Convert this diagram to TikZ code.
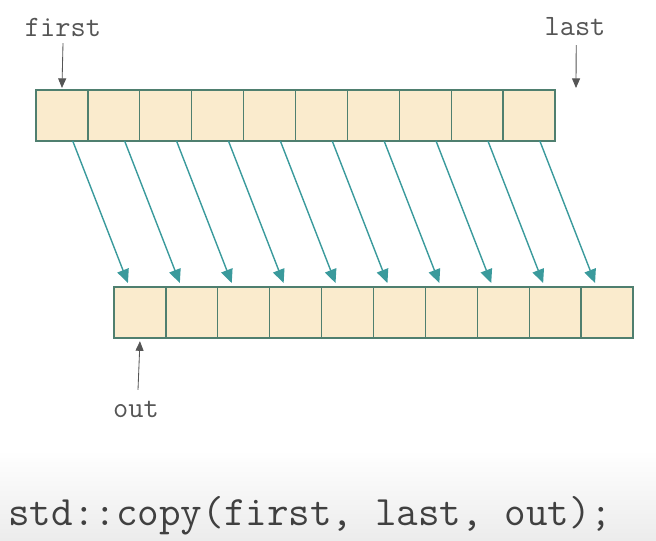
\documentclass[tikz,border=0pt]{standalone}
\usetikzlibrary{arrows.meta, positioning}
\definecolor{CellFill}{HTML}{FAEBCD}
\definecolor{CellEdge}{HTML}{4F7F6F}
\definecolor{Teal}{HTML}{3A9A9C}
\definecolor{LabelGray}{HTML}{555555}
\definecolor{BandGray}{HTML}{ECECEC}

\tikzset{
  cell/.style={draw=CellEdge, fill=CellFill, line width=0.9pt,
               minimum width=1.2975cm, minimum height=1.275cm,
               inner sep=0pt, outer sep=0pt},
  copyarrow/.style={-{Triangle[length=3.4mm, width=3mm]}, Teal, line width=1pt},
  ptrarrow/.style={-{Triangle[length=2.4mm, width=2mm]}, LabelGray, line width=0.6pt},
  ptrlabel/.style={font=\ttfamily\fontsize{21}{23}\selectfont, text=LabelGray}
}

\begin{document}
\begin{tikzpicture}[x=0.025cm, y=-0.025cm]
\useasboundingbox (0,0) rectangle (656,540);

% ── Code band ─────────────────────────────────────────────────────────────────
\shade[top color=white, bottom color=BandGray] (0,450) rectangle (656,540);
\node[anchor=base west, inner sep=0pt, text=black!75,
      font=\ttfamily\fontsize{29.8}{32}\selectfont] (call) at (8,525)
  {std::copy(first, last, out);};

% ── Source and destination ranges ─────────────────────────────────────────────
\foreach \i in {1,...,10}{
  \node[cell] (t\i) at ({36 + (\i-0.5)*51.9}, 115.5) {};
  \node[cell] (b\i) at ({114 + (\i-0.5)*51.9}, 312.5) {};
}

% ── Copy arrows ───────────────────────────────────────────────────────────────
\foreach \i in {1,...,10}{
  \draw[copyarrow] ([xshift=0.27cm]t\i.south) -- ([xshift=-0.3cm, yshift=0.1cm]b\i.north);
}

% ── Iterators ─────────────────────────────────────────────────────────────────
\node[ptrlabel] (first) at (63,27) {first};
\node[ptrlabel] (last) at (575,27) {last};
\node[ptrlabel] (out) at (136,409) {out};
\coordinate (end) at (576,88);

\draw[ptrarrow] ([yshift=-0.05cm]first.south) -- ([yshift=0.05cm]t1.north);
\draw[ptrarrow] ([xshift=0.03cm, yshift=-0.1cm]last.south) -- (end);
\draw[ptrarrow] ([xshift=0.05cm, yshift=0.15cm]out.north) -- ([yshift=-0.08cm]b1.south);

\end{tikzpicture}
\end{document}
